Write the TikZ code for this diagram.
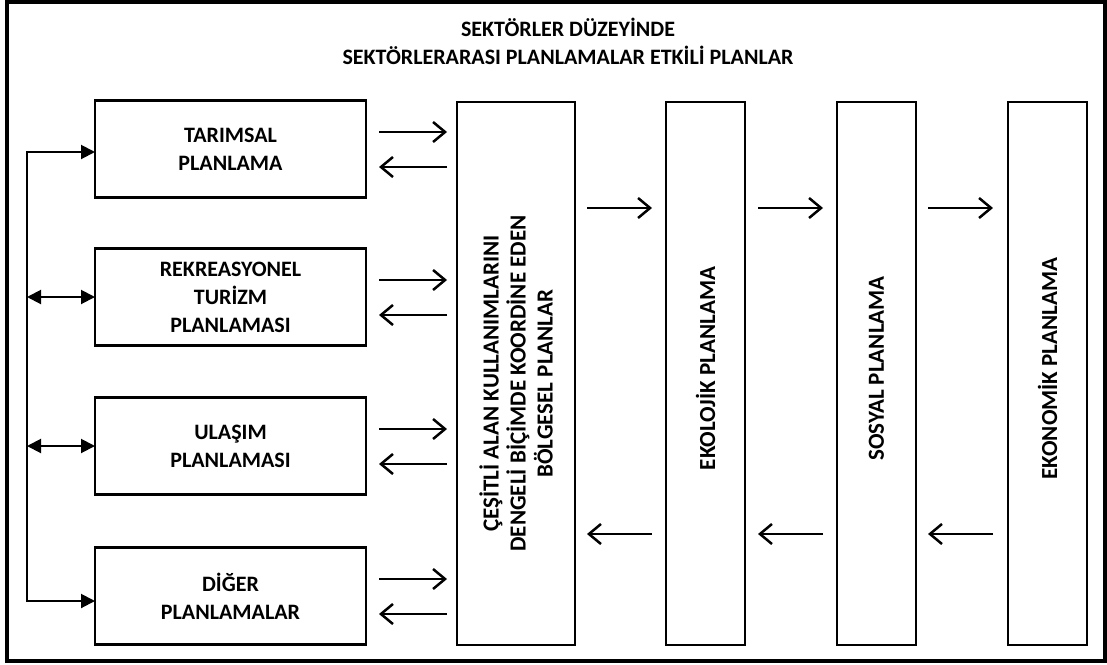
\documentclass[tikz,border=0pt]{standalone}
\usepackage{fontspec}
\setmainfont{Carlito}
\usepackage{tikz}
\usetikzlibrary{positioning, arrows.meta}
\tikzstyle{planbox} = [rectangle, minimum width=271pt, minimum height=97pt, outer sep=0pt, text centered, align=center, draw=black, line width=2.5pt, font=\bfseries\fontsize{22}{28}\selectfont]
\tikzstyle{tallbox} = [rectangle, minimum width=79pt, minimum height=543pt, outer sep=0pt, draw=black, line width=2.5pt]
\tikzstyle{talltext} = [rotate=90, align=center, font=\bfseries\fontsize{23}{27}\selectfont]
\tikzstyle{arrow} = [line width=2.5pt, -{Straight Barb[length=12pt,width=20pt]}]
\tikzstyle{busline} = [line width=2pt, >={Triangle[length=14pt,width=14pt]}]

\begin{document}
\begin{tikzpicture}[x=1pt, y=-1pt]
	\useasboundingbox (0,0) rectangle (1107,664);
	\draw [line width=4pt] (7,2) rectangle (1105,661);
	\node (title) [font=\bfseries\fontsize{22}{28}\selectfont, align=center] at (568,41) {SEKTÖRLER DÜZEYİNDE\\SEKTÖRLERARASI PLANLAMALAR ETKİLİ PLANLAR};

	\node (tarim) [planbox] at (230.5,149) {TARIMSAL\\PLANLAMA};
	\node (rekre) [planbox, below=51pt of tarim] {REKREASYONEL\\TURİZM\\PLANLAMASI};
	\node (ulasim) [planbox, below=52pt of rekre] {ULAŞIM\\PLANLAMASI};
	\node (diger) [planbox, below=53pt of ulasim] {DİĞER\\PLANLAMALAR};

	\node (bolge) [tallbox, minimum width=118pt] at (516,373.5) {};
	\node (ekoloji) [tallbox, right=91pt of bolge] {};
	\node (sosyal) [tallbox, right=92pt of ekoloji] {};
	\node (ekonomi) [tallbox, right=92pt of sosyal] {};

	\node (bolgetext) [talltext] at ([yshift=-10pt]bolge.center) {ÇEŞİTLİ ALAN KULLANIMLARINI\\DENGELİ BİÇİMDE KOORDİNE EDEN\\BÖLGESEL PLANLAR};
	\node (ekolojitext) [talltext] at ([yshift=5pt]ekoloji.center) {EKOLOJİK PLANLAMA};
	\node (sosyaltext) [talltext] at ([yshift=5pt]sosyal.center) {SOSYAL PLANLAMA};
	\node (ekonomitext) [talltext] at ([yshift=5pt]ekonomi.center) {EKONOMİK PLANLAMA};

	\foreach \n in {tarim,rekre,ulasim,diger} {
		\draw [arrow] ([xshift=13pt,yshift=17pt]\n.east) -- ++(68pt,0);
		\draw [arrow] ([xshift=81pt,yshift=-18pt]\n.east) -- ++(-68pt,0);
	}

	\draw [arrow] ([xshift=12pt,yshift=-106pt]bolge.north east) -- ([xshift=-14pt,yshift=-106pt]ekoloji.north west);
	\draw [arrow] ([xshift=13pt,yshift=-106pt]ekoloji.north east) -- ([xshift=-14pt,yshift=-106pt]sosyal.north west);
	\draw [arrow] ([xshift=12pt,yshift=-106pt]sosyal.north east) -- ([xshift=-15pt,yshift=-106pt]ekonomi.north west);
	\draw [arrow] ([xshift=-14pt,yshift=111pt]ekoloji.south west) -- ([xshift=12pt,yshift=111pt]bolge.south east);
	\draw [arrow] ([xshift=-14pt,yshift=111pt]sosyal.south west) -- ([xshift=13pt,yshift=111pt]ekoloji.south east);
	\draw [arrow] ([xshift=-15pt,yshift=111pt]ekonomi.south west) -- ([xshift=12pt,yshift=111pt]sosyal.south east);

	\coordinate (busbot) at ([xshift=-68pt,yshift=-5pt]diger.west);
	\draw [busline, <->] ([yshift=-3pt]tarim.west) -| (busbot) -- ([yshift=-5pt]diger.west);
	\draw [busline, <->] (rekre.west -| busbot) -- (rekre.west);
	\draw [busline, <->] (ulasim.west -| busbot) -- (ulasim.west);
\end{tikzpicture}
\end{document}
